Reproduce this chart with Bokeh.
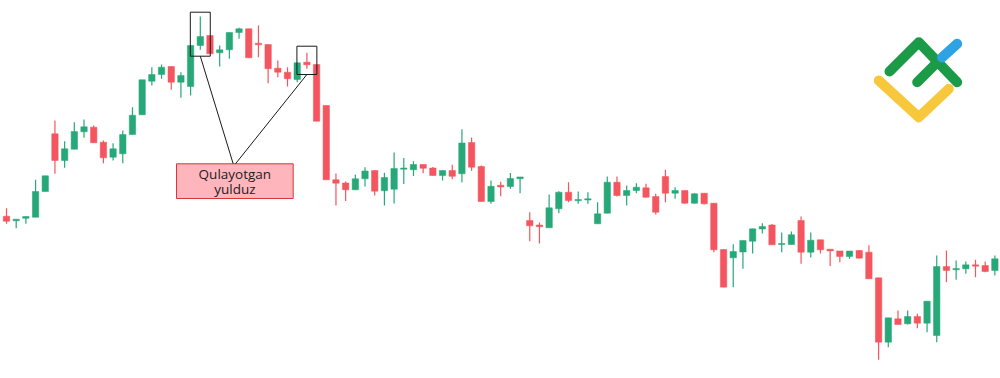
from bokeh.plotting import figure
from bokeh.models import Range1d, ColumnDataSource
from bokeh.core.properties import value
from bokeh.embed import file_html
from bokeh.resources import INLINE

# ---- candle data (arbitrary price units) ----
opens = [162.3, 157.7, 160.3, 161.3, 187.0, 244.7, 218.0, 229.3, 246.7, 251.3,
         236.3, 221.3, 224.7, 244.0, 263.7, 297.3, 304.0, 312.0, 296.3, 292.0,
         333.0, 343.0, 325.7, 328.7, 346.0, 349.7, 335.3, 334.0, 310.3, 306.3,
         299.0, 316.3, 314.0, 273.0, 198.7, 195.5, 188.7, 199.7, 208.0, 187.7,
         189.3, 209.3, 208.8, 214.0, 210.5, 203.0, 208.0, 204.7, 236.0, 212.0,
         177.0, 193.3, 192.0, 199.8, 158.0, 153.5, 150.7, 169.7, 186.3, 177.7,
         178.5, 154.7, 165.3, 196.3, 183.0, 188.0, 190.7, 182.0, 202.0, 185.3,
         188.0, 175.3, 185.3, 175.3, 129.0, 120.7, 126.5, 137.3, 149.5, 153.5,
         134.0, 134.0, 158.0, 126.3, 138.7, 129.3, 127.6, 122.0, 128.0, 126.3,
         100.7, 36.3, 59.7, 54.7, 62.0, 55.3, 43.0, 112.0, 108.7, 109.7,
         113.7, 113.0, 108.0]
highs = [170.3, 159.3, 162.0, 198.7, 202.7, 258.0, 237.3, 256.3, 259.0, 253.0,
         238.0, 235.3, 248.0, 271.3, 298.7, 311.3, 314.0, 312.0, 306.3, 333.0,
         362.0, 343.0, 333.0, 346.0, 350.7, 349.7, 353.0, 334.0, 318.0, 311.3,
         315.7, 325.7, 314.0, 273.0, 205.0, 197.0, 204.0, 211.3, 208.0, 205.7,
         226.0, 220.5, 217.3, 214.0, 211.5, 208.0, 213.8, 249.3, 241.0, 213.0,
         198.0, 196.8, 205.5, 201.6, 166.3, 156.0, 184.0, 187.3, 196.3, 187.0,
         186.3, 176.3, 202.0, 202.0, 193.0, 195.3, 194.7, 184.7, 208.7, 191.3,
         188.0, 185.3, 185.3, 175.3, 129.0, 134.3, 138.0, 149.7, 155.3, 154.5,
         146.0, 147.0, 162.0, 146.0, 138.7, 129.3, 127.6, 127.5, 128.5, 133.3,
         100.7, 60.7, 68.0, 68.0, 64.7, 77.3, 123.0, 128.0, 118.0, 117.0,
         118.7, 117.0, 123.0]
lows = [154.7, 150.3, 154.7, 161.3, 187.0, 204.7, 210.7, 229.3, 240.7, 235.7,
        215.3, 218.0, 215.3, 244.0, 263.7, 293.0, 299.7, 288.7, 280.7, 283.0,
        328.7, 324.7, 312.0, 319.7, 339.7, 320.7, 321.3, 295.3, 301.3, 292.0,
        296.3, 309.7, 257.3, 198.7, 173.0, 177.5, 188.7, 192.0, 183.0, 173.0,
        175.0, 194.5, 202.5, 205.3, 203.0, 198.0, 199.2, 196.0, 207.7, 177.0,
        174.7, 182.2, 189.7, 185.3, 137.3, 135.0, 150.7, 165.3, 176.3, 174.7,
        174.7, 154.7, 165.3, 182.0, 173.0, 185.3, 180.7, 164.0, 176.3, 179.7,
        174.7, 174.7, 174.0, 126.3, 91.3, 91.3, 109.7, 125.0, 145.0, 133.7,
        126.3, 134.0, 114.7, 121.0, 125.0, 112.5, 116.3, 119.7, 120.0, 99.7,
        18.7, 31.3, 54.0, 54.0, 50.3, 46.3, 36.3, 96.3, 98.7, 104.7,
        101.3, 106.3, 103.0]
closes = [157.3, 159.3, 162.0, 187.0, 202.7, 218.0, 229.7, 247.0, 251.7, 235.7,
          220.7, 229.7, 244.0, 263.3, 298.7, 304.0, 311.3, 296.3, 303.0, 333.0,
          342.0, 324.7, 328.7, 346.0, 349.7, 320.7, 333.7, 309.7, 306.3, 299.7,
          315.7, 313.7, 257.3, 198.7, 195.3, 188.7, 199.7, 207.5, 187.3, 201.0,
          210.0, 210.5, 214.0, 210.2, 203.0, 208.0, 202.2, 235.5, 211.3, 177.0,
          192.2, 191.6, 200.0, 201.6, 152.7, 151.8, 170.7, 186.3, 178.0, 179.0,
          179.7, 164.7, 196.3, 183.0, 188.0, 191.3, 181.3, 166.3, 185.3, 188.0,
          175.3, 184.7, 174.7, 128.7, 91.3, 127.0, 138.0, 149.7, 152.0, 133.7,
          135.0, 143.8, 126.3, 138.3, 128.7, 127.6, 122.0, 127.5, 120.3, 99.7,
          36.3, 60.7, 54.0, 62.0, 55.3, 77.3, 112.0, 108.0, 110.0, 113.7,
          112.3, 107.0, 119.7]

# ---- annotation ----
label_lines = ["Qulayotgan", "yulduz"]
star_idx = [20, 31]            # candles highlighted by boxes

UP = "#26A879"
DOWN = "#F4555E"

n = len(opens)
idx = list(range(n))
colors = [UP if c >= o else DOWN for o, c in zip(opens, closes)]
tops = [max(o, c) for o, c in zip(opens, closes)]
bots = [min(o, c) for o, c in zip(opens, closes)]

STEP = 9.69   # pixels per candle
X0 = 6.0      # pixel of first candle

W, H = 1000, 378
p = figure(width=W, height=H, output_backend="svg", toolbar_location=None,
           x_range=Range1d(-X0 / STEP, (W - X0) / STEP), y_range=Range1d(0, H),
           min_border=0, background_fill_color="white", border_fill_color="white")
p.axis.visible = False
p.grid.visible = False
p.outline_line_color = None

src = ColumnDataSource(dict(x=idx, o=opens, h=highs, l=lows, c=closes,
                            top=tops, bot=bots, color=colors))
p.segment(x0="x", y0="l", x1="x", y1="h", color="color", line_width=1.2, source=src)
p.vbar(x="x", width=0.66, top="top", bottom="bot", fill_color="color",
       line_color="color", line_width=0.5, source=src)

# helper for screen-pixel decorations -> data coords
def px(xp):
    return (xp - X0) / STEP

def py(yp):
    return H - yp

# boxes around the shooting-star candles
bl, br, bt, bb = [], [], [], []
pads_top = [4.3, 6.6]
pads_bot = [6.4, 5.7]
for k, i in enumerate(star_idx):
    bl.append(i - 1.03)
    br.append(i + 1.03)
    bt.append(highs[i] + pads_top[k])
    bb.append(lows[i] - pads_bot[k])
p.quad(left=bl, right=br, top=bt, bottom=bb, fill_alpha=0,
       line_color="#1a1a1a", line_width=1)

# label box
lab_l, lab_r, lab_t, lab_b = px(176), px(292.7), py(163.3), py(198)
p.quad(left=[lab_l], right=[lab_r], top=[lab_t], bottom=[lab_b],
       fill_color="#FFB5BC", line_color="#D8343C", line_width=1)

# connector lines
p.segment(x0=[star_idx[0], star_idx[1]], y0=[bb[0], bb[1]],
          x1=[px(232.7), px(235)], y1=[lab_t, lab_t],
          line_color="#1a1a1a", line_width=1)

cx = (lab_l + lab_r) / 2
p.text(x=[cx, cx], y=[py(173.5), py(188.5)], text=label_lines,
       text_font=value("Open Sans"), text_font_size="13.5px",
       text_color="#222222", text_align="center", text_baseline="middle")

# logo (pixel-space polylines)
logo_yellow = [(878.3, 80), (918.3, 116.7), (948.3, 88.3)]
logo_green = [(889, 71), (918.3, 41.7), (956.7, 81.7)]
logo_green2 = [(916.7, 81.7), (938, 60.5)]
logo_blue = [(941.5, 57), (956.7, 43.3)]
for pts, col in [(logo_yellow, "#F8C83C"), (logo_green, "#1B9A47"),
                 (logo_green2, "#1B9A47"), (logo_blue, "#2EA3E3")]:
    p.line(x=[px(a) for a, b in pts], y=[py(b) for a, b in pts],
           line_color=col, line_width=10, line_cap="round", line_join="round")

open("out.html", "w").write(file_html(p, INLINE))
